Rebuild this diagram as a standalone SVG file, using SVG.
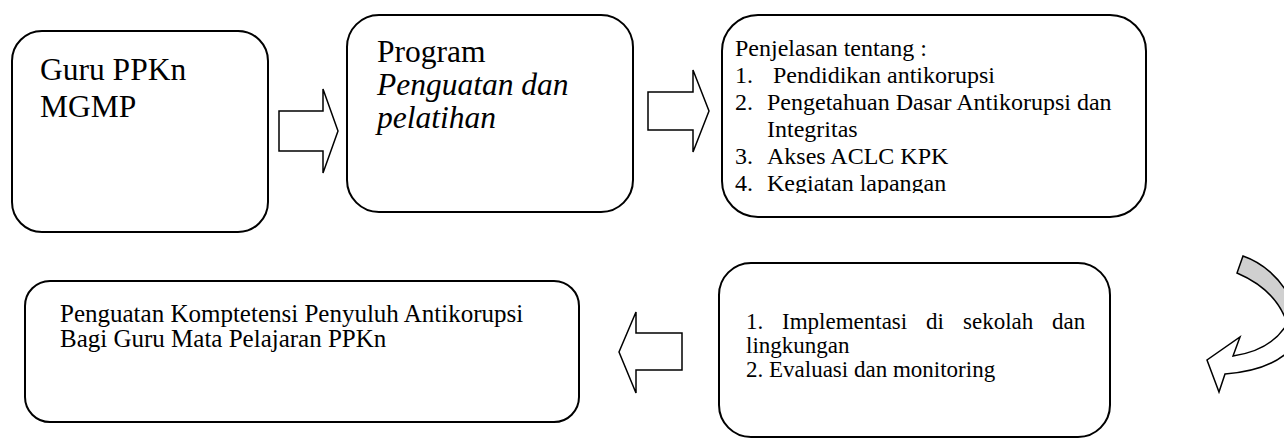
<svg xmlns="http://www.w3.org/2000/svg" width="1284" height="440" viewBox="0 0 1284 440">
<style>
.box{fill:#fff;stroke:#000;stroke-width:2}
.arr{fill:#fff;stroke:#000;stroke-width:1.5;stroke-linejoin:miter}
.t{font-family:"Liberation Serif","Times New Roman",serif;fill:#000}
.big{font-size:31.5px}
.f3{font-size:24px}
.f4{font-size:23px}
.f5{font-size:25px}
</style>
<defs>
<clipPath id="clip3"><rect x="700" y="0" width="460" height="193"/></clipPath>
</defs>
<rect width="1284" height="440" fill="#fff"/>
<g id="connectors">
<path class="arr" d="M279,111 L323,111 L323,89 L338,131 L323,173 L323,151 L279,151 Z"/>
<path class="arr" d="M648,92 L693,92 L693,70 L709,111 L693,152 L693,130 L648,130 Z"/>
<path class="arr" d="M682,333 L636,333 L636,312 L619,352 L636,393 L636,370 L682,370 Z"/>
<path d="M1243,256 C1263,263 1280,278 1290,298 L1290,335 C1285,305 1265,285 1237,273 Z" fill="#d0d0d0" stroke="#000" stroke-width="1.5"/>
<path d="M1290,318 C1280,340 1260,352 1233,356 L1240,337 L1207,360 L1219,392 L1225,374 C1252,372 1276,364 1290,350 Z" fill="#fff" stroke="#000" stroke-width="1.5"/>
</g>
<g id="node1">
<rect class="box" x="12" y="31" width="256" height="201" rx="30"/>
<text class="t big" x="40" y="80">Guru PPKn</text>
<text class="t big" x="40" y="117">MGMP</text>
</g>
<g id="node2">
<rect class="box" x="347" y="15" width="286" height="197" rx="32"/>
<text class="t big" x="377" y="62">Program</text>
<text class="t big" x="377" y="95" font-style="italic">Penguatan dan</text>
<text class="t big" x="377" y="128" font-style="italic">pelatihan</text>
</g>
<g id="node3">
<rect class="box" x="722" y="15" width="424" height="202" rx="36"/>
<g clip-path="url(#clip3)">
<text class="t f3" x="735" y="56">Penjelasan tentang :</text>
<text class="t f3" x="735" y="83">1.</text>
<text class="t f3" x="773" y="83">Pendidikan antikorupsi</text>
<text class="t f3" x="735" y="110">2.</text>
<text class="t f3" x="767" y="110">Pengetahuan Dasar Antikorupsi dan</text>
<text class="t f3" x="767" y="137">Integritas</text>
<text class="t f3" x="735" y="164">3.</text>
<text class="t f3" x="767" y="164">Akses ACLC KPK</text>
<text class="t f3" x="735" y="191">4.</text>
<text class="t f3" x="767" y="191">Kegiatan lapangan</text>
</g>
</g>
<g id="node4">
<rect class="box" x="719" y="263" width="391" height="174" rx="32"/>
<text class="t f4" y="329"><tspan x="746">1.</tspan><tspan x="782">Implementasi</tspan><tspan x="926">di</tspan><tspan x="963">sekolah</tspan><tspan x="1052">dan</tspan></text>
<text class="t f4" x="746" y="353">lingkungan</text>
<text class="t f4" x="746" y="377">2. Evaluasi dan monitoring</text>
</g>
<g id="node5">
<rect class="box" x="25" y="281" width="554" height="141" rx="25"/>
<text class="t f5" x="60" y="322">Penguatan Komptetensi Penyuluh Antikorupsi</text>
<text class="t f5" x="60" y="347">Bagi Guru Mata Pelajaran PPKn</text>
</g>
</svg>
